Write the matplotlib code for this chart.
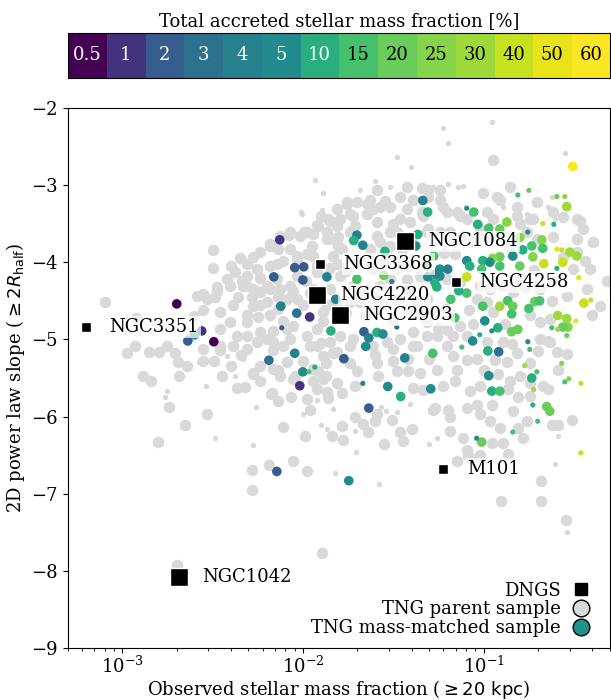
import matplotlib
matplotlib.use("Agg")
import matplotlib.pyplot as plt
import numpy as np
from matplotlib.colors import ListedColormap, BoundaryNorm
from matplotlib.lines import Line2D

plt.rcParams['font.family'] = ['DejaVu Serif']
plt.rcParams['font.size'] = 13

# accreted fraction bins [%]
acc_bins = [0.5, 1, 2, 3, 4, 5, 10, 15, 20, 25, 30, 40, 50, 60]

# DNGS galaxies
dngs_names = ['NGC1084', 'NGC3368', 'NGC4220', 'NGC2903', 'NGC4258', 'NGC3351', 'M101', 'NGC1042']
dngs_frac = [0.0366, 0.0124, 0.0119, 0.0160, 0.0700, 0.00063, 0.0600, 0.00206]
dngs_slope = [-3.73, -4.02, -4.42, -4.69, -4.26, -4.84, -6.68, -8.08]
dngs_big = [True, False, True, True, False, False, False, True]

# TNG parent sample: log10(fraction), slope  (larger galaxies)
parent_big = [
    (-0.949, -2.67), (-1.591, -3.06), (-1.425, -3.03), (-1.342, -3.04), (-1.004, -3.10), (-0.927, -3.16),
    (-0.855, -3.03), (-0.705, -3.22), (-1.242, -3.19), (-1.309, -3.15), (-1.392, -3.19), (-1.464, -3.16),
    (-1.547, -3.21), (-1.63, -3.19), (-1.702, -3.22), (-1.757, -3.22), (-1.812, -3.31), (-1.74, -3.38),
    (-1.613, -3.31), (-1.519, -3.29), (-1.425, -3.31), (-1.336, -3.40), (-1.226, -3.28), (-1.148, -3.35),
    (-1.093, -3.44), (-0.983, -3.35), (-0.817, -3.40), (-0.744, -3.44), (-1.812, -3.53), (-1.713, -3.53),
    (-1.591, -3.48), (-1.502, -3.51), (-1.409, -3.48), (-1.834, -3.70), (-1.74, -3.61), (-1.591, -3.66),
    (-1.519, -3.79), (-1.48, -3.61), (-1.187, -3.61), (-1.115, -3.66), (-0.761, -3.61), (-0.705, -3.70),
    (-0.484, -3.44), (-0.45, -3.57), (-0.395, -3.74), (-0.318, -4.24), (-0.412, -4.09), (-0.561, -3.93),
    (-1.447, -4.05), (-1.63, -4.05), (-1.806, -4.02), (-1.702, -4.00),
    (-0.467, -3.46), (-1.242, -3.06), (-1.309, -3.06), (-0.91, -3.19), (-0.817, -3.29), (-0.617, -3.35),
    (-0.561, -3.42), (-0.617, -3.68), (-0.484, -3.70), (-0.44, -3.98), (-0.506, -4.09), (-0.428, -4.35),
    (-0.356, -4.57), (-0.40, -4.69), (-0.617, -4.26), (-0.689, -4.35), (-0.772, -4.32), (-0.838, -4.39),
    (-0.90, -4.31), (-0.965, -4.35), (-1.021, -4.31), (-1.038, -4.48), (-0.982, -4.51), (-0.744, -4.69),
    (-0.689, -4.77), (-0.633, -4.73), (-0.633, -5.03), (-0.689, -4.99), (-0.894, -5.03), (-0.982, -5.03),
    (-1.093, -4.95), (-1.17, -4.95), (-1.131, -4.82), (-1.021, -3.57), (-0.965, -3.68), (-1.06, -3.73),
    (-1.17, -3.74), (-1.242, -3.61), (-1.309, -3.57), (-1.131, -3.40), (-1.203, -3.35), (-0.949, -3.44),
    (-0.80, -3.51), (-0.727, -3.44), (-0.484, -3.87), (-0.539, -4.44),
    (-1.757, -3.25), (-1.646, -3.25), (-1.574, -3.29), (-1.646, -3.38), (-1.724, -3.40), (-1.796, -3.44),
    (-1.851, -3.47), (-1.917, -3.53), (-2.072, -3.61), (-2.017, -3.66), (-1.945, -3.64), (-1.867, -3.61),
    (-1.806, -3.68), (-2.128, -3.66), (-2.183, -3.79), (-2.238, -3.87), (-2.277, -3.93), (-2.31, -4.02),
    (-2.255, -4.09), (-2.183, -4.05), (-2.111, -3.98), (-2.034, -3.92), (-1.945, -3.92), (-1.834, -3.92),
    (-1.784, -3.83), (-1.63, -3.83), (-1.574, -3.74), (-1.519, -3.61), (-1.464, -3.44), (-1.342, -3.35),
    (-1.314, -3.61), (-2.238, -4.21), (-2.31, -4.31), (-2.238, -4.39), (-2.183, -4.35), (-2.072, -4.31),
    (-2.089, -4.48), (-2.034, -4.48), (-2.2, -4.51), (-2.277, -4.57), (-2.31, -4.69), (-2.25, -4.71),
    (-2.183, -4.69), (-2.111, -4.76), (-2.056, -4.82), (-2.166, -4.89), (-2.238, -4.90), (-2.31, -4.95),
    (-2.255, -5.03), (-2.166, -5.03), (-2.072, -4.99), (-1.978, -4.95), (-1.923, -4.86), (-1.889, -4.76),
    (-1.867, -4.56), (-1.906, -4.48), (-1.74, -4.51), (-1.685, -4.51), (-1.724, -4.31), (-1.646, -4.35),
    (-1.574, -4.31), (-1.519, -4.22), (-1.48, -4.09), (-1.425, -4.22), (-1.353, -4.18), (-1.408, -4.05),
    (-1.613, -4.09), (-1.796, -4.18), (-1.923, -4.13), (-2.034, -4.18), (-1.923, -5.08), (-1.851, -5.03),
    (-1.796, -4.96), (-1.724, -4.99), (-1.74, -5.08), (-1.613, -5.08), (-1.536, -5.03), (-1.464, -4.99),
    (-1.392, -4.90), (-1.314, -4.95), (-1.392, -5.08), (-1.502, -4.73), (-1.425, -4.60), (-1.37, -4.51),
    (-1.314, -4.48), (-1.353, -4.69), (-1.558, -4.56), (-1.314, -4.77),
    (-1.862, -3.44), (-1.995, -3.61), (-2.078, -3.65), (-2.498, -3.84), (-2.498, -4.08), (-2.376, -4.13),
    (-2.31, -4.18), (-2.144, -4.02), (-2.072, -3.83), (-2.034, -3.96), (-1.978, -3.89), (-1.951, -3.79),
    (-1.867, -3.70), (-1.806, -3.79), (-1.923, -4.05), (-2.183, -3.77), (-2.139, -3.83), (-1.978, -3.61),
    (-2.554, -4.41), (-2.476, -4.32), (-2.404, -4.31), (-2.338, -4.24), (-2.277, -4.35), (-2.2, -4.31),
    (-2.128, -4.35), (-2.056, -4.37), (-2.487, -4.45), (-1.923, -3.52),
    (-3.096, -4.51), (-2.925, -4.72), (-2.975, -5.18), (-2.931, -5.09), (-2.853, -5.16), (-2.798, -5.16),
    (-2.754, -5.09), (-2.709, -5.18), (-2.693, -5.29), (-2.643, -5.35), (-2.887, -5.48), (-2.843, -5.54),
    (-2.742, -5.88), (-2.687, -5.48), (-2.654, -6.11), (-2.803, -6.33), (-2.532, -5.97), (-2.449, -5.47),
    (-2.277, -5.45), (-2.366, -5.63), (-2.322, -5.62), (-2.238, -5.54), (-2.178, -5.71), (-2.139, -5.80),
    (-2.067, -5.75), (-2.111, -6.14), (-1.839, -6.25), (-2.189, -6.63), (-2.283, -6.69), (-2.056, -6.58),
    (-1.978, -6.71), (-2.554, -5.28), (-2.493, -5.28), (-2.554, -5.12), (-2.388, -5.08), (-2.46, -5.14),
    (-2.238, -5.35), (-2.166, -5.38), (-2.056, -5.51), (-1.945, -5.38), (-1.889, -5.51), (-1.867, -5.68),
    (-1.923, -5.64), (-1.978, -5.77), (-2.128, -5.47), (-2.587, -4.44), (-2.532, -4.48), (-2.476, -4.37),
    (-2.333, -4.31), (-2.144, -4.22), (-2.46, -4.64), (-2.388, -4.56), (-2.238, -4.56), (-2.31, -4.77),
    (-2.404, -4.77), (-2.46, -4.86), (-2.366, -4.95), (-2.2, -4.99), (-2.089, -4.86), (-1.962, -5.08),
    (-1.889, -5.21), (-1.812, -5.16), (-1.889, -4.64), (-1.812, -4.56), (-1.851, -4.35), (-1.945, -4.35),
    (-2.46, -5.08), (-2.283, -6.95), (-1.895, -7.77), (-2.698, -7.92),
    (-2.277, -5.44), (-2.172, -5.70), (-1.962, -5.92), (-1.862, -5.76), (-1.812, -5.57), (-1.784, -5.69),
    (-1.873, -5.47), (-1.713, -6.0), (-1.668, -6.10), (-1.602, -6.06), (-1.591, -5.96), (-1.508, -6.05),
    (-1.989, -6.25), (-1.784, -6.12), (-1.779, -6.30), (-1.641, -6.20), (-1.464, -6.20), (-1.398, -6.16),
    (-1.447, -6.32), (-1.552, -6.36), (-1.281, -5.91), (-2.31, -5.12), (-2.166, -5.14), (-2.111, -5.08),
    (-2.089, -5.29), (-2.139, -5.40), (-2.045, -5.47), (-1.945, -5.54), (-1.917, -5.41), (-1.873, -5.31),
    (-1.834, -5.18), (-1.74, -5.31), (-1.702, -5.41), (-1.713, -5.61), (-1.591, -5.31), (-1.585, -5.47),
    (-1.502, -5.28), (-1.48, -5.41), (-1.42, -5.41), (-1.353, -5.44), (-1.336, -5.66), (-1.392, -5.63),
    (-1.502, -5.12), (-1.37, -5.09), (-1.259, -5.40),
    (-1.259, -4.95), (-1.203, -5.08), (-1.17, -5.21), (-1.093, -5.27), (-1.038, -5.25), (-0.938, -5.27),
    (-0.872, -5.29), (-0.817, -5.18), (-0.844, -5.06), (-0.644, -5.02), (-0.595, -5.16), (-0.539, -5.19),
    (-0.589, -5.40), (-0.644, -5.64), (-0.744, -5.57), (-0.80, -5.47), (-0.855, -5.54), (-1.148, -5.40),
    (-1.226, -5.61), (-1.159, -5.54), (-1.076, -5.67), (-1.021, -5.60), (-0.866, -5.64), (-0.81, -5.74),
    (-0.744, -5.73), (-0.672, -5.61), (-1.27, -5.89), (-1.198, -5.92), (-1.187, -6.00), (-1.093, -5.89),
    (-1.038, -5.85), (-0.954, -5.85), (-1.021, -5.96), (-0.965, -6.06), (-0.838, -5.93), (-0.761, -6.06),
    (-0.81, -6.15), (-0.783, -6.28), (-0.91, -6.15), (-0.622, -6.11), (-0.589, -6.11), (-0.512, -6.05),
    (-0.954, -6.34), (-0.894, -6.34), (-1.093, -6.43), (-1.021, -6.50), (-0.866, -6.48), (-1.087, -6.51),
    (-0.683, -6.84), (-1.187, -6.19), (-1.115, -6.28),
    (-0.905, -7.09), (-0.683, -7.09), (-0.544, -7.34), (-1.076, -6.54), (-1.148, -6.57),
    # dense core
    (-2.40, -4.05), (-2.35, -3.95), (-2.42, -4.22), (-2.36, -4.45), (-2.28, -4.45), (-2.14, -4.45),
    (-2.14, -4.60), (-2.00, -4.56), (-1.96, -4.40), (-1.98, -4.24), (-1.85, -4.08), (-1.76, -4.12),
    (-1.70, -4.40), (-1.60, -4.45), (-1.55, -4.00), (-1.45, -3.90), (-1.40, -3.72), (-1.42, -4.35),
    (-1.48, -4.48), (-1.33, -4.62), (-1.27, -4.62), (-1.21, -4.60), (-1.20, -4.22), (-1.13, -4.25),
    (-1.08, -4.62), (-1.06, -4.80), (-0.95, -4.65), (-0.88, -4.80), (-1.25, -4.85), (-1.20, -4.88),
    (-1.60, -4.62), (-1.65, -4.70), (-1.76, -4.66), (-2.00, -5.28), (-1.90, -5.05), (-1.60, -5.20),
    (-1.42, -5.25), (-1.30, -5.25), (-1.00, -5.40), (-0.92, -5.45), (-0.74, -5.30), (-0.70, -5.15),
    (-2.60, -4.70), (-2.55, -4.62), (-2.62, -4.95), (-2.40, -5.35), (-2.34, -5.20), (-0.80, -4.20),
    (-0.72, -4.10), (-0.62, -4.50), (-0.86, -3.80), (-1.16, -3.90), (-1.22, -3.88), (-1.90, -3.40),
]

# TNG parent sample (smaller galaxies)
parent_small = [
    (-1.225, -2.26), (-0.954, -2.19), (-1.198, -2.45), (-1.48, -2.64), (-1.403, -2.77), (-0.55, -2.58),
    (-1.602, -2.95), (-1.685, -3.06), (-1.519, -3.03), (-1.281, -3.02), (-1.198, -2.99), (-1.143, -3.02),
    (-1.115, -3.01), (-0.622, -3.15), (-0.894, -3.28), (-0.606, -3.44), (-0.761, -3.38), (-0.644, -3.29),
    (-2.006, -3.37), (-1.934, -2.94), (-1.89, -3.11), (-2.011, -3.35), (-1.895, -3.33), (-2.754, -5.67),
    (-2.765, -5.75), (-2.537, -5.61), (-2.487, -6.28), (-2.377, -5.47), (-2.26, -5.88), (-1.995, -6.27),
    (-1.901, -6.11), (-1.867, -6.16), (-2.277, -6.37), (-2.421, -5.22), (-2.576, -5.29), (-2.333, -5.25),
    (-1.834, -5.90), (-1.823, -6.73), (-2.0, -5.96), (-1.923, -5.79), (-1.48, -5.94), (-1.713, -6.19),
    (-1.707, -6.46), (-1.58, -6.87), (-1.303, -6.36), (-1.409, -5.84), (-1.569, -5.87), (-1.541, -5.93),
    (-0.589, -6.25), (-0.606, -6.62), (-1.259, -6.28), (-0.539, -7.50),
]

# TNG mass-matched sample: log10(fraction), slope, accreted fraction [%]
matched_big = [
    (-2.128, -3.71, 1), (-2.045, -4.07, 2), (-1.995, -4.06, 2), (-2.161, -4.19, 2), (-2.0, -4.23, 2),
    (-1.867, -4.19, 4), (-2.122, -4.57, 4), (-2.034, -4.66, 3), (-1.962, -4.71, 1), (-1.845, -4.89, 10),
    (-1.818, -4.48, 4), (-1.701, -3.65, 4), (-1.718, -3.72, 10), (-1.668, -3.78, 4), (-1.546, -3.86, 10),
    (-1.701, -4.22, 15), (-1.552, -4.17, 20), (-1.662, -4.90, 2), (-1.635, -4.98, 4), (-1.59, -4.91, 10),
    (-1.557, -4.93, 5), (-1.364, -3.64, 10), (-1.336, -3.20, 4), (-1.309, -3.35, 10), (-1.652, -5.09, 5),
    (-2.698, -4.54, 0.5), (-2.56, -4.89, 1), (-2.598, -4.94, 5), (-2.637, -5.02, 2), (-2.493, -5.03, 0.5),
    (-2.188, -5.27, 3), (-2.045, -5.18, 4), (-2.0, -5.42, 5), (-2.017, -5.60, 1), (-1.773, -5.25, 2),
    (-1.53, -5.61, 5), (-1.436, -5.24, 4), (-1.458, -5.74, 10), (-1.292, -5.64, 5), (-1.281, -5.18, 15),
    (-1.635, -5.89, 2), (-2.144, -6.71, 2), (-1.746, -6.83, 5),
    (-1.054, -3.35, 15), (-1.032, -3.51, 10), (-0.971, -3.56, 15), (-0.91, -3.57, 20), (-0.871, -3.48, 25),
    (-0.539, -3.28, 30), (-0.799, -3.68, 25), (-0.677, -3.71, 25), (-0.733, -3.79, 15), (-0.783, -3.84, 10),
    (-0.672, -3.82, 15), (-0.727, -3.93, 25), (-0.838, -3.92, 5), (-0.91, -3.93, 20), (-0.949, -3.95, 25),
    (-1.004, -3.98, 10), (-1.093, -3.98, 5), (-1.076, -4.05, 10), (-0.522, -3.87, 30), (-0.484, -3.92, 30),
    (-0.561, -4.0, 40), (-0.666, -4.02, 40), (-0.445, -4.53, 40), (-0.799, -4.05, 20), (-0.91, -4.05, 15),
    (-0.965, -4.0, 5), (-1.01, -4.09, 15), (-1.093, -4.19, 40), (-1.093, -4.40, 15), (-1.137, -4.37, 10),
    (-1.181, -4.48, 15), (-1.198, -4.09, 4), (-1.242, -4.18, 5), (-1.27, -4.26, 10), (-1.308, -4.19, 5),
    (-1.259, -4.32, 10), (-1.314, -4.05, 15), (-1.159, -4.72, 15), (-0.993, -4.76, 5), (-0.921, -4.85, 10),
    (-0.91, -4.57, 30), (-0.866, -4.50, 15), (-0.838, -4.57, 20), (-0.844, -4.67, 15), (-0.749, -4.60, 15),
    (-0.716, -4.51, 20), (-0.689, -4.50, 15), (-0.844, -4.90, 20), (-0.81, -4.87, 20), (-0.589, -4.69, 30),
    (-0.539, -4.73, 30), (-0.533, -4.84, 25), (-0.561, -4.84, 20), (-1.06, -5.02, 5), (-1.375, -3.79, 5),
    (-1.275, -3.92, 15), (-1.242, -4.09, 5), (-1.264, -4.15, 4), (-0.976, -5.15, 10), (-0.916, -5.16, 3),
    (-0.971, -5.47, 5), (-0.954, -5.67, 10), (-0.91, -5.67, 15), (-0.733, -5.50, 10), (-0.65, -5.87, 20),
    (-0.633, -5.93, 20), (-1.01, -6.33, 20), (-0.506, -2.76, 60), (-1.004, -4.57, 15),
]

matched_small = [
    (-2.117, -4.85, 2), (-1.48, -4.84, 3), (-1.967, -5.42, 15), (-1.934, -5.36, 10), (-1.668, -5.57, 4),
    (-1.093, -3.30, 5), (-0.81, -3.13, 15), (-0.749, -3.07, 20), (-0.594, -3.15, 20), (-0.55, -3.15, 25),
    (-0.672, -3.50, 40), (-0.611, -3.51, 10), (-0.755, -3.61, 5), (-0.594, -3.83, 50), (-0.567, -3.84, 40),
    (-0.594, -4.08, 10), (-0.473, -4.20, 50), (-0.954, -4.89, 5), (-0.489, -4.76, 50), (-0.589, -4.87, 30),
    (-0.539, -4.95, 20), (-1.021, -4.94, 10), (-0.755, -5.03, 5), (-0.622, -4.85, 15), (-1.508, -4.25, 5),
    (-1.12, -5.10, 15), (-0.744, -5.13, 15), (-0.772, -5.34, 30), (-0.705, -5.42, 15), (-0.722, -5.65, 30),
    (-0.567, -5.31, 25), (-0.55, -5.55, 15), (-0.528, -5.51, 25), (-0.461, -5.57, 40), (-0.727, -5.85, 10),
    (-0.70, -6.06, 15), (-0.838, -6.20, 15), (-1.038, -6.28, 5), (-0.461, -6.47, 40), (-0.406, -4.49, 40),
]

# discrete viridis colours, spaced logarithmically in accreted fraction
bin_pos = np.log(np.array(acc_bins) / acc_bins[0]) / np.log(acc_bins[-1] / acc_bins[0])
bin_colors = plt.cm.viridis(bin_pos)
cmap = ListedColormap(bin_colors)
norm = BoundaryNorm(np.arange(len(acc_bins) + 1) - 0.5, len(acc_bins))
grey = '#d9d9d9'


def bin_index(values):
    return [acc_bins.index(v) for v in values]


fig = plt.figure(figsize=(6.11, 7.0), dpi=100)
ax = fig.add_axes([0.111, 0.074, 0.887, 0.772])
cax = fig.add_axes([0.111, 0.889, 0.888, 0.064])

pb = np.array(parent_big)
ps = np.array(parent_small)
ax.scatter(10 ** pb[:, 0], pb[:, 1], s=68, color=grey, lw=0, zorder=1)
ax.scatter(10 ** ps[:, 0], ps[:, 1], s=15, color=grey, lw=0, zorder=1)

mb = np.array(matched_big)
ms = np.array(matched_small)
ax.scatter(10 ** mb[:, 0], mb[:, 1], s=48, c=bin_index(list(mb[:, 2])), cmap=cmap, norm=norm, lw=0, zorder=2)
ax.scatter(10 ** ms[:, 0], ms[:, 1], s=14, c=bin_index(list(ms[:, 2])), cmap=cmap, norm=norm, lw=0, zorder=2)

for name, fx, sl, big in zip(dngs_names, dngs_frac, dngs_slope, dngs_big):
    ax.scatter(fx, sl, marker='s', s=150 if big else 55, color='black', edgecolor='white', lw=1, zorder=4)
    ax.annotate(name, (fx, sl), xytext=(17, 0), textcoords='offset points', va='center', ha='left',
                fontsize=13, zorder=3,
                bbox=dict(boxstyle='square,pad=0.1', fc='white', ec='none', alpha=0.7))

ax.set_xscale('log')
ax.set_xlim(5e-4, 0.5)
ax.set_ylim(-9, -2)
ax.set_yticks(np.arange(-9, -1, 1))
ax.set_xlabel(r'Observed stellar mass fraction ($\geq 20\ \mathrm{kpc}$)', labelpad=1)
ax.set_ylabel(r'2D power law slope ($\geq 2R_{\rm half}$)', labelpad=3)
ax.tick_params(labelsize=13)
ax.tick_params(axis='x', pad=2)

handles = [
    Line2D([], [], marker='s', ls='none', color='black', markersize=9),
    Line2D([], [], marker='o', ls='none', markerfacecolor=grey, markeredgecolor='black', markersize=12),
    Line2D([], [], marker='o', ls='none', markerfacecolor=plt.cm.viridis(0.5), markeredgecolor='black',
           markersize=12),
]
ax.legend(handles, ['DNGS', 'TNG parent sample', 'TNG mass-matched sample'], loc='lower right',
          markerfirst=False, frameon=False, fontsize=13, handletextpad=0.1, labelspacing=0.05,
          borderaxespad=0.2)

# colour bar with labelled bins
cax.imshow([np.arange(len(acc_bins))], cmap=cmap, norm=norm, aspect='auto',
           extent=(0, len(acc_bins), 0, 1))
for i, v in enumerate(acc_bins):
    cax.text(i + 0.5, 0.5, f'{v:g}', ha='center', va='center', fontsize=13,
             color='white' if v <= 10 else 'black')
cax.set_xticks([])
cax.set_yticks([])
cax.set_title('Total accreted stellar mass fraction [%]', fontsize=13, pad=5)

fig.savefig('out.png', dpi=100)
